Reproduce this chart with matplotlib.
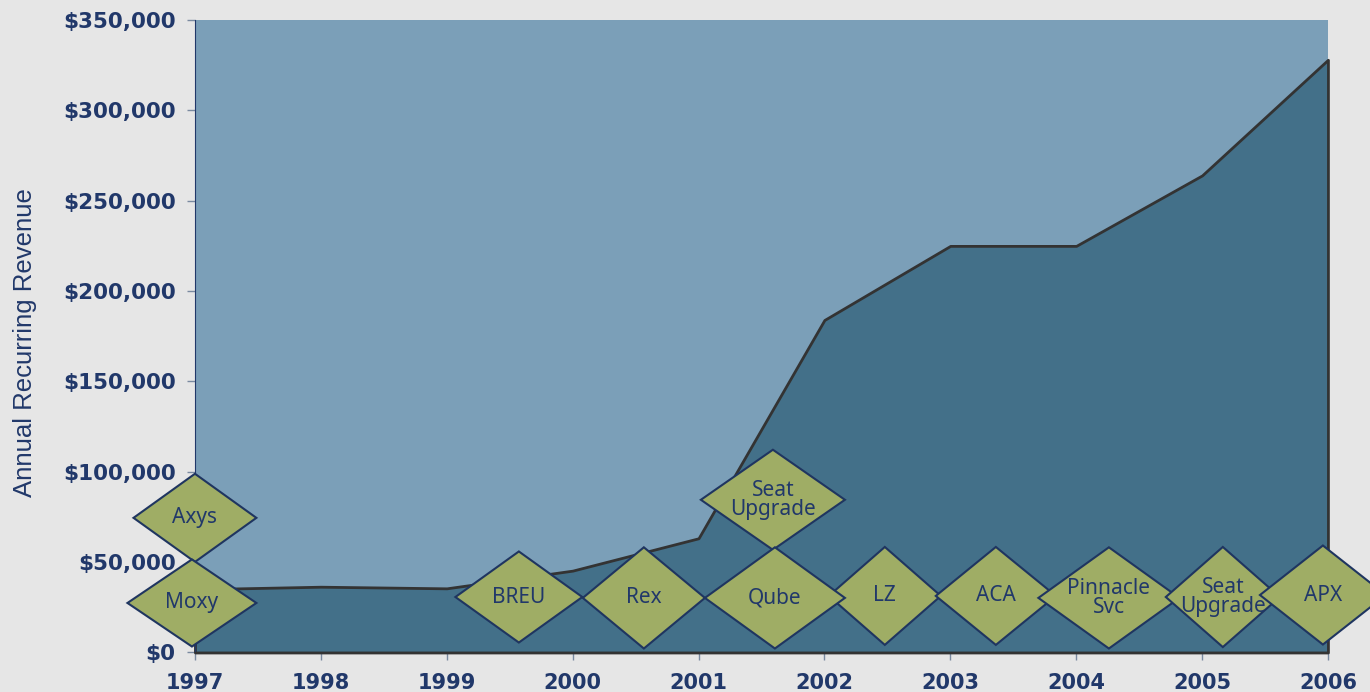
import matplotlib
matplotlib.use("Agg")
import matplotlib.pyplot as plt
from matplotlib.patches import Polygon
from matplotlib.ticker import StrMethodFormatter
import numpy as np

# revenue by year
years = [1997, 1998, 1999, 2000, 2001, 2002, 2003, 2004, 2005, 2006]
revenue = [35000, 36400, 35500, 45300, 63200, 184000, 225000, 225000, 264000, 328000]

# milestone diamonds: label, x (year), y (dollars)
deal_labels = ["Axys", "Moxy", "BREU", "Rex", "Seat\nUpgrade", "LZ", "Qube",
               "ACA", "Pinnacle\nSvc", "Seat\nUpgrade", "APX"]
deal_x = [1997.0, 1996.976, 1999.573, 2000.566, 2001.591, 2002.48, 2001.607,
          2003.362, 2004.26, 2005.165, 2005.96]
deal_y = [74500, 27400, 30700, 30200, 84500, 31300, 30200,
          31300, 30200, 30700, 31800]
# half sizes of each diamond (years, dollars)
deal_hw = [0.488, 0.512, 0.504, 0.485, 0.572, 0.445, 0.556, 0.477, 0.56, 0.453, 0.5]
deal_hh = [24400, 24100, 25200, 28000, 27700, 27100, 28000, 27100, 28000, 27700, 27400]

navy = "#21386a"
fig = plt.figure(figsize=(13.7, 6.92), dpi=100, facecolor="#e6e6e6")
ax = fig.add_axes([0.1423, 0.0571, 0.9693 - 0.1423, 0.9711 - 0.0571])
ax.set_facecolor("#7b9fb8")

ax.fill_between(years, revenue, 0, facecolor="#437089", edgecolor="#333333",
                linewidth=2.0, zorder=2, clip_on=False)

for i in range(len(deal_labels)):
    cx, cy, hw, hh = deal_x[i], deal_y[i], deal_hw[i], deal_hh[i]
    d = Polygon([(cx - hw, cy), (cx, cy + hh), (cx + hw, cy), (cx, cy - hh)],
                closed=True, facecolor="#9fad65", edgecolor="#1f3560",
                linewidth=1.5, zorder=3 + i, clip_on=False)
    ax.add_patch(d)
    ax.text(cx, cy, deal_labels[i], ha="center", va="center", color=navy,
            fontsize=15, family=["Noto Sans", "DejaVu Sans"], linespacing=0.85,
            zorder=3 + i)

ax.set_xlim(1997, 2006)
ax.set_ylim(0, 350000)
ax.set_xticks(years)
ax.set_yticks(np.arange(0, 350001, 50000))
ax.yaxis.set_major_formatter(StrMethodFormatter("${x:,.0f}"))

for s in ["top", "right"]:
    ax.spines[s].set_visible(False)
ax.spines["left"].set_color(navy)
ax.spines["bottom"].set_color("#333333")

ax.tick_params(axis="both", colors="#7a8aa0", length=6, width=1,
               labelcolor=navy, labelsize=15)
ax.tick_params(axis="y", pad=8, labelsize=15.5)
ax.tick_params(axis="x", pad=9)
for lab in ax.get_xticklabels() + ax.get_yticklabels():
    lab.set_fontweight("bold")

ax.set_ylabel("Annual Recurring Revenue", fontsize=18.5, color=navy,
              family=["Liberation Sans", "DejaVu Sans"])
ax.yaxis.set_label_coords(-0.139, 0.49)

fig.savefig("out.png", dpi=100, facecolor=fig.get_facecolor())
